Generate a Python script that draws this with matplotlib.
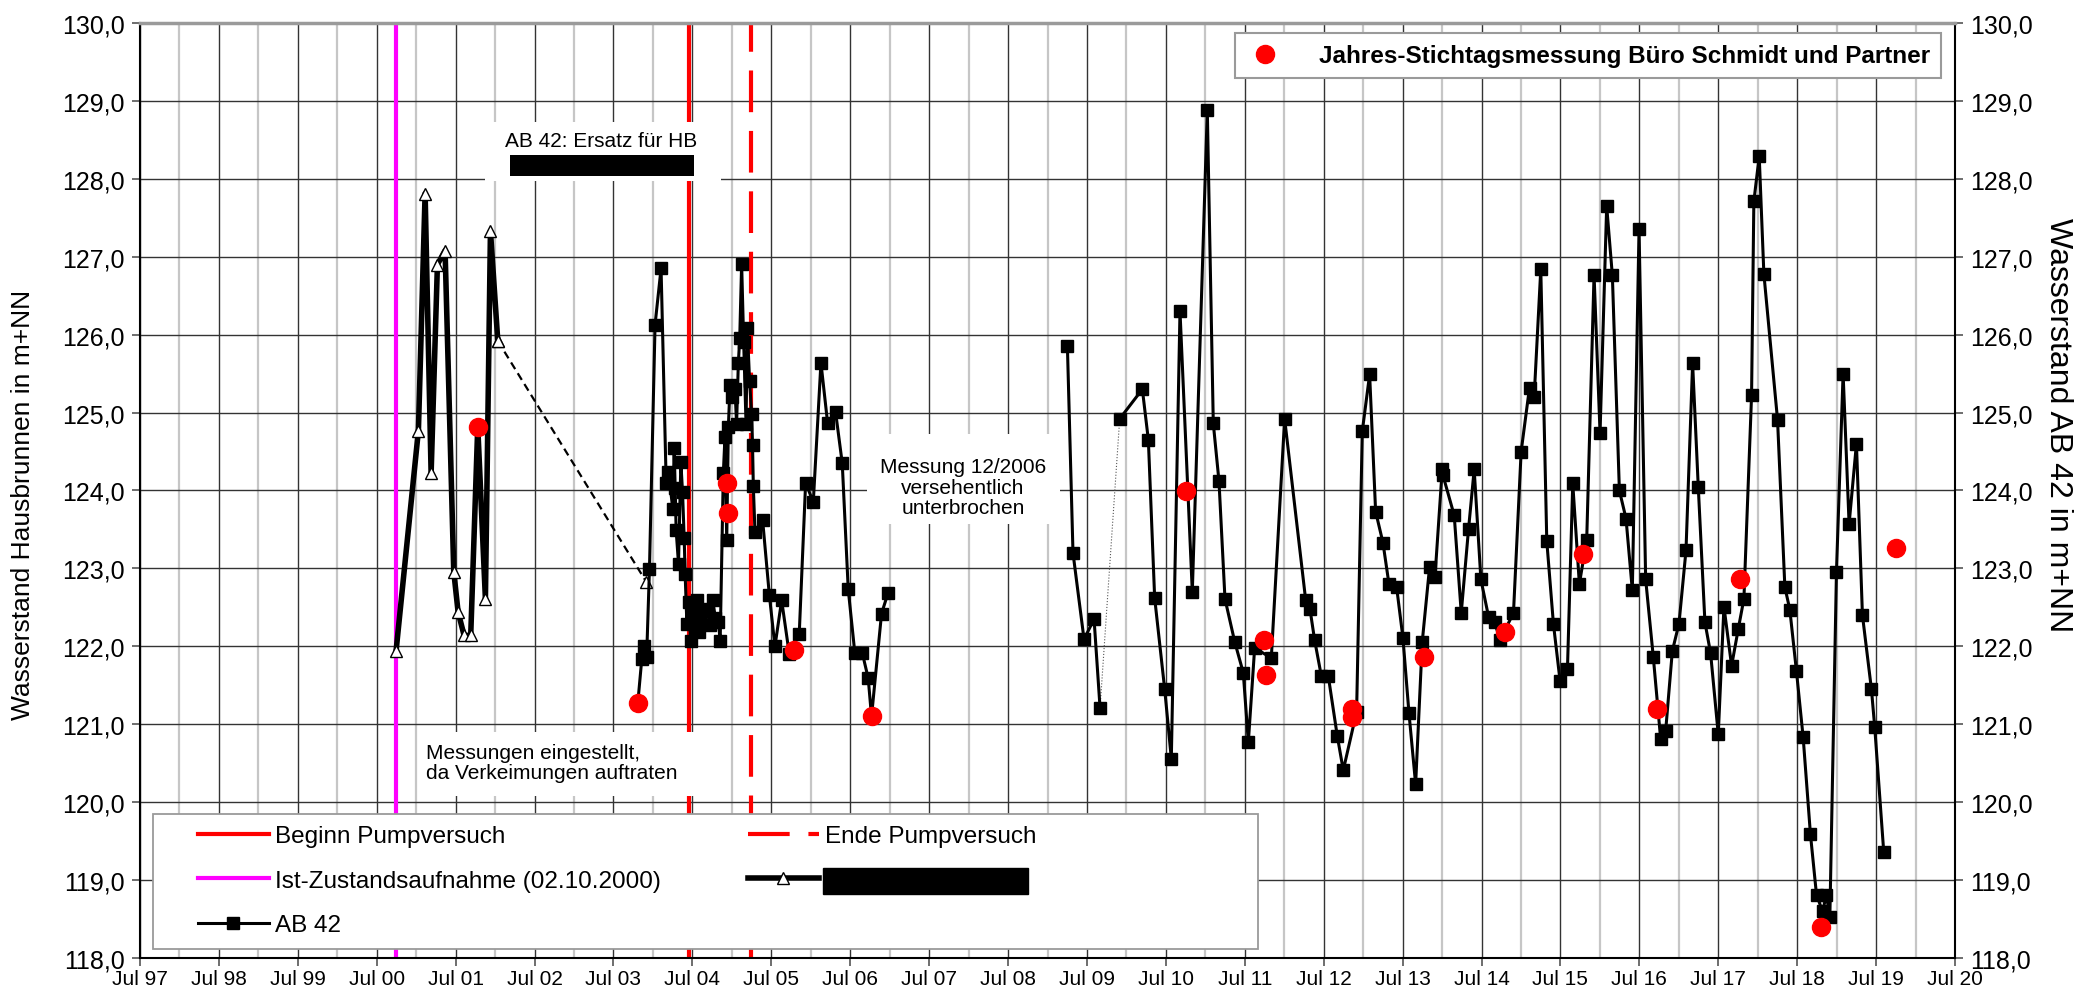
import numpy as np
import matplotlib
matplotlib.use("Agg")
import matplotlib.pyplot as plt
from matplotlib.patches import Rectangle
from matplotlib.ticker import FuncFormatter

plt.rcParams['font.family'] = ['Liberation Sans', 'DejaVu Sans']

# ---- data (decimal years, m+NN) ----
# Hausbrunnen (HB), triangles
hb_t = [2000.745, 2001.028, 2001.113, 2001.189, 2001.269, 2001.366, 2001.476,
        2001.531, 2001.607, 2001.691, 2001.780, 2001.877, 2001.941, 2002.034,
        2003.914]
hb_v = [121.94, 124.77, 127.81, 124.22, 126.90, 127.08, 122.96,
        122.44, 122.14, 122.14, 124.82, 122.61, 127.33, 125.92,
        122.83]

# AB 42, squares
ab42_t = [2003.808, 2003.859, 2003.888, 2003.920, 2003.956, 2004.027, 2004.103,
          2004.168, 2004.197, 2004.252, 2004.269, 2004.282, 2004.294, 2004.324,
          2004.354, 2004.375, 2004.396, 2004.408, 2004.430, 2004.451, 2004.480,
          2004.505, 2004.530, 2004.556, 2004.580, 2004.599, 2004.640, 2004.683,
          2004.720, 2004.759, 2004.790, 2004.830, 2004.852, 2004.892, 2004.913,
          2004.935, 2004.956, 2004.977, 2005.000, 2005.040, 2005.060, 2005.082,
          2005.100, 2005.124, 2005.150, 2005.180, 2005.196, 2005.225, 2005.251,
          2005.262, 2005.272, 2005.293, 2005.390, 2005.475, 2005.546, 2005.631,
          2005.728, 2005.854, 2005.935, 2006.032, 2006.129, 2006.213, 2006.314,
          2006.399, 2006.475, 2006.559, 2006.652, 2006.728, 2006.770, 2006.897,
          2006.981,
          2009.252, 2009.323, 2009.463, 2009.590, 2009.666,
          2009.915, 2010.202, 2010.278, 2010.358, 2010.485, 2010.569, 2010.679,
          2010.835, 2011.025, 2011.101, 2011.173, 2011.249, 2011.372, 2011.481,
          2011.545, 2011.625, 2011.836, 2012.005, 2012.271, 2012.326, 2012.385,
          2012.470, 2012.558, 2012.672, 2012.748, 2012.917, 2012.989, 2013.082,
          2013.158, 2013.251, 2013.327, 2013.424, 2013.504, 2013.580, 2013.665,
          2013.749, 2013.842, 2013.910, 2014.002, 2014.010, 2014.154, 2014.243,
          2014.335, 2014.407, 2014.492, 2014.589, 2014.665, 2014.736, 2014.905,
          2015.002, 2015.108, 2015.167, 2015.251, 2015.327, 2015.411, 2015.496,
          2015.589, 2015.656, 2015.740, 2015.833, 2015.926, 2016.002, 2016.086,
          2016.158, 2016.247, 2016.331, 2016.411, 2016.496, 2016.580, 2016.677,
          2016.770, 2016.833, 2016.918, 2017.002, 2017.091, 2017.175, 2017.247,
          2017.331, 2017.403, 2017.500, 2017.572, 2017.669, 2017.753, 2017.825,
          2017.922, 2017.951, 2018.019, 2018.078, 2018.251, 2018.344, 2018.407,
          2018.491, 2018.576, 2018.668, 2018.745, 2018.822, 2018.871, 2018.914,
          2018.998, 2019.082, 2019.158, 2019.251, 2019.327, 2019.441, 2019.483,
          2019.597]
ab42_v = [121.27, 121.84, 122.00, 121.86, 122.99, 126.13, 126.85,
          124.10, 124.24, 123.76, 124.54, 124.03, 123.49, 123.06,
          124.36, 123.98, 123.39, 122.93, 122.29, 122.57, 122.07,
          122.42, 122.22, 122.59, 122.18, 122.31, 122.45, 122.48,
          122.28, 122.59, 122.37, 122.31, 122.07, 124.22, 124.69,
          123.36, 124.82, 125.35, 125.20, 125.30, 124.85, 125.63,
          125.96, 126.91, 125.90, 124.85, 126.08, 125.40, 124.98,
          124.59, 124.06, 123.47, 123.62, 122.66, 122.00, 122.59,
          121.90, 122.16, 124.10, 123.85, 125.64, 124.87, 125.01,
          124.35, 122.73, 121.91, 121.92, 121.59, 121.10, 122.42,
          122.69,
          125.86, 123.20, 122.09, 122.35, 121.21,
          124.92, 125.30, 124.65, 122.62, 121.45, 120.56, 126.30,
          122.70, 128.88, 124.86, 124.12, 122.61, 122.06, 121.66,
          120.77, 121.98, 121.85, 124.92, 122.60, 122.48, 122.08,
          121.62, 121.62, 120.85, 120.41, 121.16, 124.76, 125.49,
          123.73, 123.33, 122.80, 122.76, 122.11, 121.15, 120.23,
          122.06, 123.02, 122.89, 124.27, 124.20, 123.68, 122.43,
          123.50, 124.27, 122.86, 122.38, 122.31, 122.08, 122.43,
          124.50, 125.32, 125.20, 126.84, 123.35, 122.29, 121.55,
          121.71, 124.09, 122.80, 123.37, 126.77, 124.74, 127.65,
          126.76, 124.00, 123.64, 122.72, 127.35, 122.86, 121.86,
          120.81, 120.91, 121.94, 122.29, 123.23, 125.63, 124.04,
          122.31, 121.91, 120.87, 122.51, 121.75, 122.22, 122.61,
          125.22, 127.71, 128.29, 126.78, 124.91, 122.76, 122.47,
          121.68, 120.83, 119.59, 118.81, 118.60, 118.81, 118.52,
          122.96, 125.50, 123.57, 124.60, 122.40, 121.45, 120.96,
          119.36]
# line is broken after these dates (gap 2007-2009, dotted link 2009)
ab42_gap_after = 2006.981
ab42_dotted_after = 2009.666

# Jahres-Stichtagsmessung Buero Schmidt und Partner
sbp_t = [2001.780, 2003.808, 2004.937, 2004.949, 2005.787, 2006.770, 2010.755,
         2011.739, 2011.764, 2012.854, 2012.860, 2013.770, 2014.800, 2015.783,
         2016.728, 2017.774, 2018.800, 2019.757]
sbp_v = [124.82, 121.27, 124.10, 123.71, 121.95, 121.10, 123.99,
         122.08, 121.63, 121.19, 121.09, 121.86, 122.18, 123.19,
         121.19, 122.86, 118.40, 123.26]

ist_zustand = 2000.75      # 02.10.2000
pump_begin = 2004.458
pump_end = 2005.244

years = list(range(1997, 2021))
xtick_labels = ["Jul %02d" % (y % 100) for y in years]


def main():
    fig = plt.figure(figsize=(20.76, 9.95), dpi=100)
    ax = fig.add_axes([140 / 2076, 36 / 995, 1815 / 2076, 935 / 995])

    ax.set_xlim(1997.5, 2020.5)
    ax.set_ylim(118, 130)
    ax.set_xticks([y + 0.5 for y in years])
    ax.set_xticklabels(xtick_labels, fontsize=15)
    ax.set_xticks([y + 1.0 for y in years[:-1]], minor=True)
    ax.set_yticks(np.arange(118, 130.5, 1.0))
    ax.yaxis.set_major_formatter(FuncFormatter(lambda v, p: ("%.1f" % v).replace('.', ',')))
    ax.tick_params(axis='y', labelsize=18, right=True, labelright=True,
                   direction='out', length=6, width=1.2, color='#555555', pad=5)
    ax.tick_params(axis='x', which='major', direction='out', length=6, width=1.2,
                   color='#555555', pad=2)
    ax.tick_params(axis='x', which='minor', length=0)

    ax.set_axisbelow(True)
    ax.grid(which='major', axis='x', color='#333333', lw=1.0)
    ax.grid(which='minor', axis='x', color='#c6c6c6', lw=1.6)
    ax.grid(which='major', axis='y', color='#333333', lw=1.0)
    for s in ['left', 'right', 'bottom']:
        ax.spines[s].set_color('black')
        ax.spines[s].set_linewidth(1.5)
    ax.spines['top'].set_color('#9a9a9a')
    ax.spines['top'].set_linewidth(2.5)

    # vertical marker lines
    l_begin = ax.axvline(pump_begin, color='#ff0000', lw=3.0, zorder=2)
    l_end = ax.axvline(pump_end, color='#ff0000', lw=3.0, dashes=(10, 4.5), zorder=2)
    l_ist = ax.axvline(ist_zustand, color='#ff00ff', lw=3.0, zorder=2)

    # HB
    l_hb, = ax.plot(hb_t[:-1], hb_v[:-1], color='black', lw=4.0, marker='^', ms=9,
                    mfc='white', mec='black', mew=1.0, zorder=6)
    ax.plot(hb_t[-2:], hb_v[-2:], color='black', lw=1.6, dashes=(3.5, 2.2), marker='^', ms=9,
            mfc='white', mec='black', mew=1.0, zorder=6)

    # AB 42
    t = np.array(ab42_t)
    v = np.array(ab42_v)
    i_gap = int(np.where(t == ab42_gap_after)[0][0])
    i_dot = int(np.where(t == ab42_dotted_after)[0][0])
    ax.plot(t[i_dot:i_dot + 2], v[i_dot:i_dot + 2], color='#555555', lw=0.8, ls=':', zorder=5)
    kw = dict(color='black', lw=2.2, marker='s', ms=8.5, zorder=7)
    l_ab, = ax.plot(t[:i_gap + 1], v[:i_gap + 1], **kw)
    ax.plot(t[i_gap + 1:i_dot + 1], v[i_gap + 1:i_dot + 1], **kw)
    ax.plot(t[i_dot + 1:], v[i_dot + 1:], **kw)

    # Stichtagsmessung
    l_sbp, = ax.plot(sbp_t, sbp_v, ls='none', marker='o', ms=13, color='#ff0000', mec='#ff0000', zorder=8)

    # annotations
    ax.add_patch(Rectangle((2001.87, 127.97), 2.99, 0.76, fc='white', ec='none', zorder=3))
    ax.text(2003.34, 128.49, "AB 42: Ersatz für HB", fontsize=15, ha='center', va='center', zorder=4)
    ax.add_patch(Rectangle((2002.19, 128.04), 2.33, 0.27, fc='black', ec='none', zorder=4))

    ax.add_patch(Rectangle((2001.02, 120.08), 3.58, 0.82, fc='white', ec='none', zorder=3))
    ax.text(2001.12, 120.51, "Messungen eingestellt,\nda Verkeimungen auftraten", fontsize=15,
            ha='left', va='center', linespacing=1.1, zorder=4)

    ax.add_patch(Rectangle((2006.71, 123.57), 2.45, 1.16, fc='white', ec='none', zorder=3))
    ax.text(2007.93, 124.04, "Messung 12/2006\nversehentlich\nunterbrochen", fontsize=15,
            ha='center', va='center', multialignment='center', linespacing=1.1, zorder=4)

    # lower legend with manual frame
    ax.add_patch(Rectangle((0.0072, 0.0096), 0.609, 0.144, transform=ax.transAxes,
                           fc='white', ec='#9a9a9a', lw=1.3, zorder=9))
    leg = ax.legend([l_begin, l_ist, l_ab, l_end, l_hb],
                    ['Beginn Pumpversuch', 'Ist-Zustandsaufnahme (02.10.2000)', 'AB 42',
                     'Ende Pumpversuch', 'Hausbrunnen (HB)'],
                    ncol=2, loc='upper left', bbox_to_anchor=(0.032, 0.142),
                    frameon=False, fontsize=17.5, handlelength=2.9, handletextpad=0.25,
                    labelspacing=0.93, columnspacing=3.6, borderpad=0, borderaxespad=0)
    leg.set_zorder(10)
    hb_text = leg.get_texts()[4]
    hb_text.set_bbox(dict(boxstyle='square,pad=0.08', fc='black', ec='black'))
    ax.add_artist(leg)

    leg2 = ax.legend([l_sbp], ['Jahres-Stichtagsmessung Büro Schmidt und Partner'],
                     loc='upper right', bbox_to_anchor=(0.9923, 0.989), borderaxespad=0,
                     prop={'size': 17.5, 'weight': 'bold'}, handlelength=1.6,
                     handletextpad=1.4, borderpad=0.45, fancybox=False, framealpha=1)
    leg2.get_frame().set_edgecolor('#9a9a9a')
    leg2.get_frame().set_linewidth(1.5)
    leg2.set_zorder(10)

    fig.text(23 / 2076, 1 - 720 / 995, "Wasserstand Hausbrunnen in m+NN", rotation=90,
             fontsize=19, ha='center', va='bottom')
    fig.text(2058 / 2076, 1 - 218 / 995, "Wasserstand AB 42 in m+NN", rotation=270,
             fontsize=23, ha='center', va='top')

    fig.savefig("out.png", dpi=100)


if __name__ == "__main__":
    main()
